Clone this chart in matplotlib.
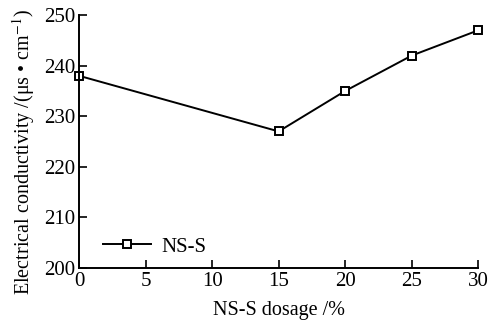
import matplotlib
matplotlib.use('Agg')
import matplotlib.pyplot as plt

dosage = [0, 15, 20, 25, 30]
conductivity = [238, 227, 235, 242, 247]
xticks = [0, 5, 10, 15, 20, 25, 30]
yticks = [200, 210, 220, 230, 240, 250]

plt.rcParams['font.family'] = ['Liberation Serif', 'DejaVu Serif']
plt.rcParams['mathtext.fontset'] = 'stix'

fig = plt.figure(figsize=(4.88, 3.22), dpi=100)
ax = fig.add_axes([0.162, 0.168, 0.818, 0.785])

ax.plot(dosage, conductivity, color='black', lw=1.4, marker='s', ms=5.5,
        mfc='white', mec='black', mew=1.4, label='NS-S', clip_on=False)

ax.set_xlim(0, 30)
ax.set_ylim(200, 250)
ax.set_xticks(xticks)
ax.set_yticks(yticks)
ax.tick_params(direction='in', length=6, width=1.2, labelsize=15, pad=3)
for s in ['top', 'right']:
    ax.spines[s].set_visible(False)
for s in ['left', 'bottom']:
    ax.spines[s].set_linewidth(1.4)

ax.set_xlabel('NS-S dosage /%', fontsize=14.5, labelpad=7)
ax.set_ylabel(r'Electrical conductivity /(μs • cm$^{-1}$)', fontsize=14.5)
ax.yaxis.set_label_coords(-0.105, 0.46)

ax.legend(loc='lower left', bbox_to_anchor=(0.012, -0.03), frameon=False,
          fontsize=15, handlelength=2.3, handletextpad=0.5)

fig.savefig('out.png', dpi=100)
